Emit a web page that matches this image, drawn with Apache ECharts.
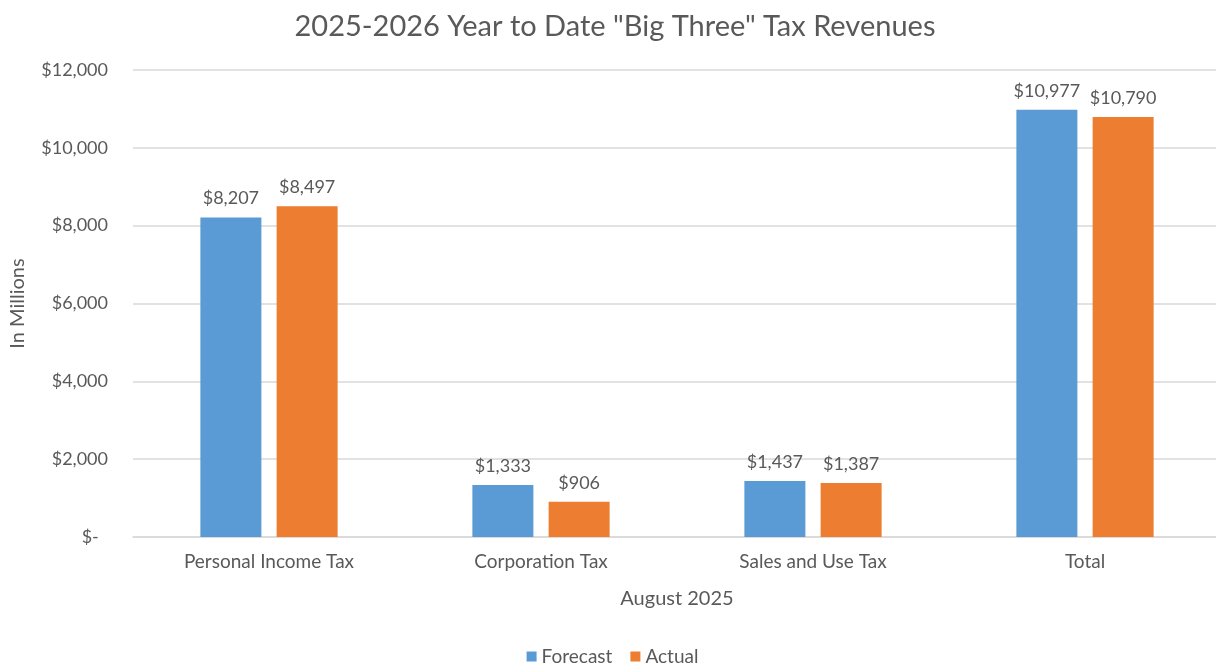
<!DOCTYPE html>
<html>
<head>
<meta charset="utf-8">
<title>2025-2026 Year to Date "Big Three" Tax Revenues</title>
<script src="https://cdn.jsdelivr.net/npm/echarts@6/dist/echarts.min.js"></script>
<style>
  html, body { margin: 0; padding: 0; background: #ffffff; overflow: hidden; }
  /* plot area runs slightly past the right edge of the page */
  #chart { width: 1225px; height: 664px; }
</style>
</head>
<body>
<div id="chart"></div>
<script>
// Year-to-date revenues (in millions of dollars), August 2025
const categories = ['Personal Income Tax', 'Corporation Tax', 'Sales and Use Tax', 'Total'];
const forecast = [8207, 1333, 1437, 10977];
const actual = [8497, 906, 1387, 10790];
const yTicks = [0, 2000, 4000, 6000, 8000, 10000, 12000];

const textColor = '#595959';
const fontFamily = 'Lato, "Open Sans", "Liberation Sans", sans-serif';

function money(v) {
  if (v === 0) return '$-  ';
  return '$' + v.toLocaleString('en-US');
}

const chart = echarts.init(document.getElementById('chart'), null, { renderer: 'canvas' });

const labelStyle = {
  show: true,
  position: 'top',
  distance: 10,
  color: textColor,
  fontFamily: fontFamily,
  fontSize: 18,
  formatter: p => money(p.value)
};

chart.setOption({
  backgroundColor: '#ffffff',
  animation: false,
  textStyle: { fontFamily: fontFamily, color: textColor },
  title: {
    text: '2025-2026 Year to Date "Big Three" Tax Revenues',
    left: 610,
    top: 7,
    textAlign: 'center',
    textStyle: { color: textColor, fontSize: 29, fontWeight: 'normal', fontFamily: fontFamily }
  },
  legend: {
    data: ['Forecast', 'Actual'],
    left: 'center',
    top: 642,
    itemWidth: 10,
    itemHeight: 10,
    itemGap: 18,
    icon: 'rect',
    textStyle: { color: textColor, fontSize: 19, fontFamily: fontFamily }
  },
  grid: { left: 133, top: 70, width: 1088, height: 467 },
  xAxis: {
    type: 'category',
    data: categories,
    name: 'August 2025',
    nameLocation: 'middle',
    nameGap: 52,
    nameTextStyle: { color: textColor, fontSize: 20, fontFamily: fontFamily },
    axisLine: { lineStyle: { color: '#D9D9D9', width: 1.5 } },
    axisTick: { show: false },
    axisLabel: { color: textColor, fontSize: 19, margin: 15, fontFamily: fontFamily }
  },
  yAxis: {
    type: 'value',
    min: yTicks[0],
    max: yTicks[yTicks.length - 1],
    interval: yTicks[1] - yTicks[0],
    name: 'In Millions',
    nameLocation: 'middle',
    nameGap: 105,
    nameRotate: 90,
    nameTextStyle: { color: textColor, fontSize: 20, fontFamily: fontFamily },
    axisLine: { show: false },
    axisTick: { show: false },
    axisLabel: { color: textColor, fontSize: 18, margin: 25, fontFamily: fontFamily, formatter: money },
    splitLine: { lineStyle: { color: '#D9D9D9', width: 1.5 } }
  },
  series: [
    {
      name: 'Forecast',
      type: 'bar',
      data: forecast,
      barWidth: 61,
      barGap: '25%',
      itemStyle: { color: '#5B9BD5' },
      label: labelStyle
    },
    {
      name: 'Actual',
      type: 'bar',
      data: actual,
      barWidth: 61,
      itemStyle: { color: '#ED7D31' },
      label: labelStyle
    }
  ]
});
</script>
</body>
</html>
